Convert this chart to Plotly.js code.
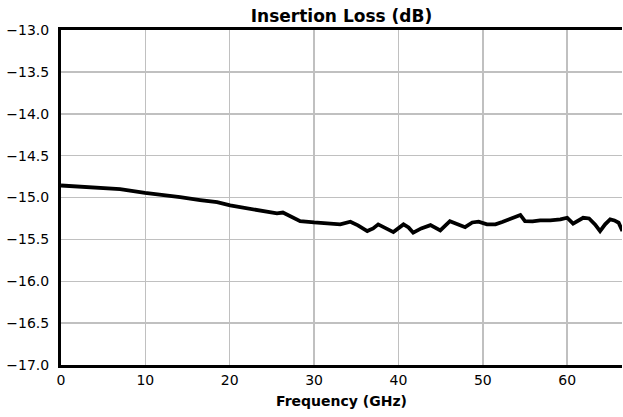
<!DOCTYPE html>
<html>
<head>
<meta charset="utf-8">
<script src="https://cdn.plot.ly/plotly-3.0.1.min.js"></script>
<style>html,body{margin:0;padding:0;background:#fff;}#chart{width:623px;height:417px;}</style>
</head>
<body>
<div id="chart"></div>
<script>
const freqGHz = [0, 2.25, 4.63, 7.0, 9.96, 11.74, 14.12, 16.49, 18.5, 20.05, 21.83, 23.6, 24.8, 25.6, 26.3, 27.2, 27.9, 28.35, 30.0, 31.55, 33.1, 34.3, 35.2, 36.3, 37.0, 37.6, 38.55, 39.4, 40.6, 41.2, 41.75, 42.7, 43.8, 44.96, 46.1, 47.1, 47.9, 48.75, 49.5, 50.5, 51.5, 52.3, 53.3, 53.85, 54.45, 55.0, 55.9, 56.8, 58.0, 59.2, 60.0, 60.7, 61.3, 61.9, 62.6, 63.3, 63.9, 64.5, 65.1, 65.6, 66.1, 66.55];
const lossDB = [-14.857, -14.869, -14.881, -14.899, -14.944, -14.964, -14.996, -15.030, -15.056, -15.095, -15.125, -15.163, -15.185, -15.190, -15.180, -15.222, -15.262, -15.282, -15.298, -15.304, -15.321, -15.289, -15.333, -15.401, -15.369, -15.321, -15.369, -15.413, -15.321, -15.357, -15.420, -15.369, -15.330, -15.393, -15.282, -15.321, -15.354, -15.298, -15.289, -15.321, -15.321, -15.292, -15.250, -15.222, -15.208, -15.282, -15.286, -15.274, -15.274, -15.262, -15.242, -15.313, -15.274, -15.242, -15.250, -15.321, -15.401, -15.321, -15.262, -15.274, -15.301, -15.401];
const chartTitle = 'Insertion Loss (dB)';
const xTitle = 'Frequency (GHz)';

const font = 'DejaVu Sans, sans-serif';
Plotly.newPlot('chart', [{
  x: freqGHz, y: lossDB, type: 'scatter', mode: 'lines',
  line: {color: '#000', width: 3.8}, hoverinfo: 'skip'
}], {
  width: 623, height: 417,
  margin: {l: 61, r: 1, t: 30, b: 52},
  paper_bgcolor: '#fff', plot_bgcolor: '#fff',
  showlegend: false,
  title: {text: '<b>' + chartTitle + '</b>', font: {family: font, size: 17, color: '#000'},
          x: 0.5, xref: 'paper', y: 0.962, yref: 'container', yanchor: 'middle'},
  xaxis: {
    range: [0, 66.5], dtick: 10, tick0: 0,
    showgrid: true, gridcolor: '#c0c0c0', gridwidth: 1.5,
    showline: true, linecolor: '#000', linewidth: 3, mirror: true,
    zeroline: false, ticks: '',
    tickfont: {family: font, size: 14, color: '#000'},
    title: {text: '<b>' + xTitle + '</b>', font: {family: font, size: 14, color: '#000'}, standoff: 10}
  },
  yaxis: {
    range: [-17, -13], dtick: 0.5, tick0: -17, tickformat: '.1f',
    showgrid: true, gridcolor: '#c0c0c0', gridwidth: 1.5,
    showline: true, linecolor: '#000', linewidth: 3, mirror: false,
    zeroline: false, ticks: '', ticklabelstandoff: 6,
    tickfont: {family: font, size: 14, color: '#000'}
  }
}, {staticPlot: true, displayModeBar: false});
</script>
</body>
</html>
